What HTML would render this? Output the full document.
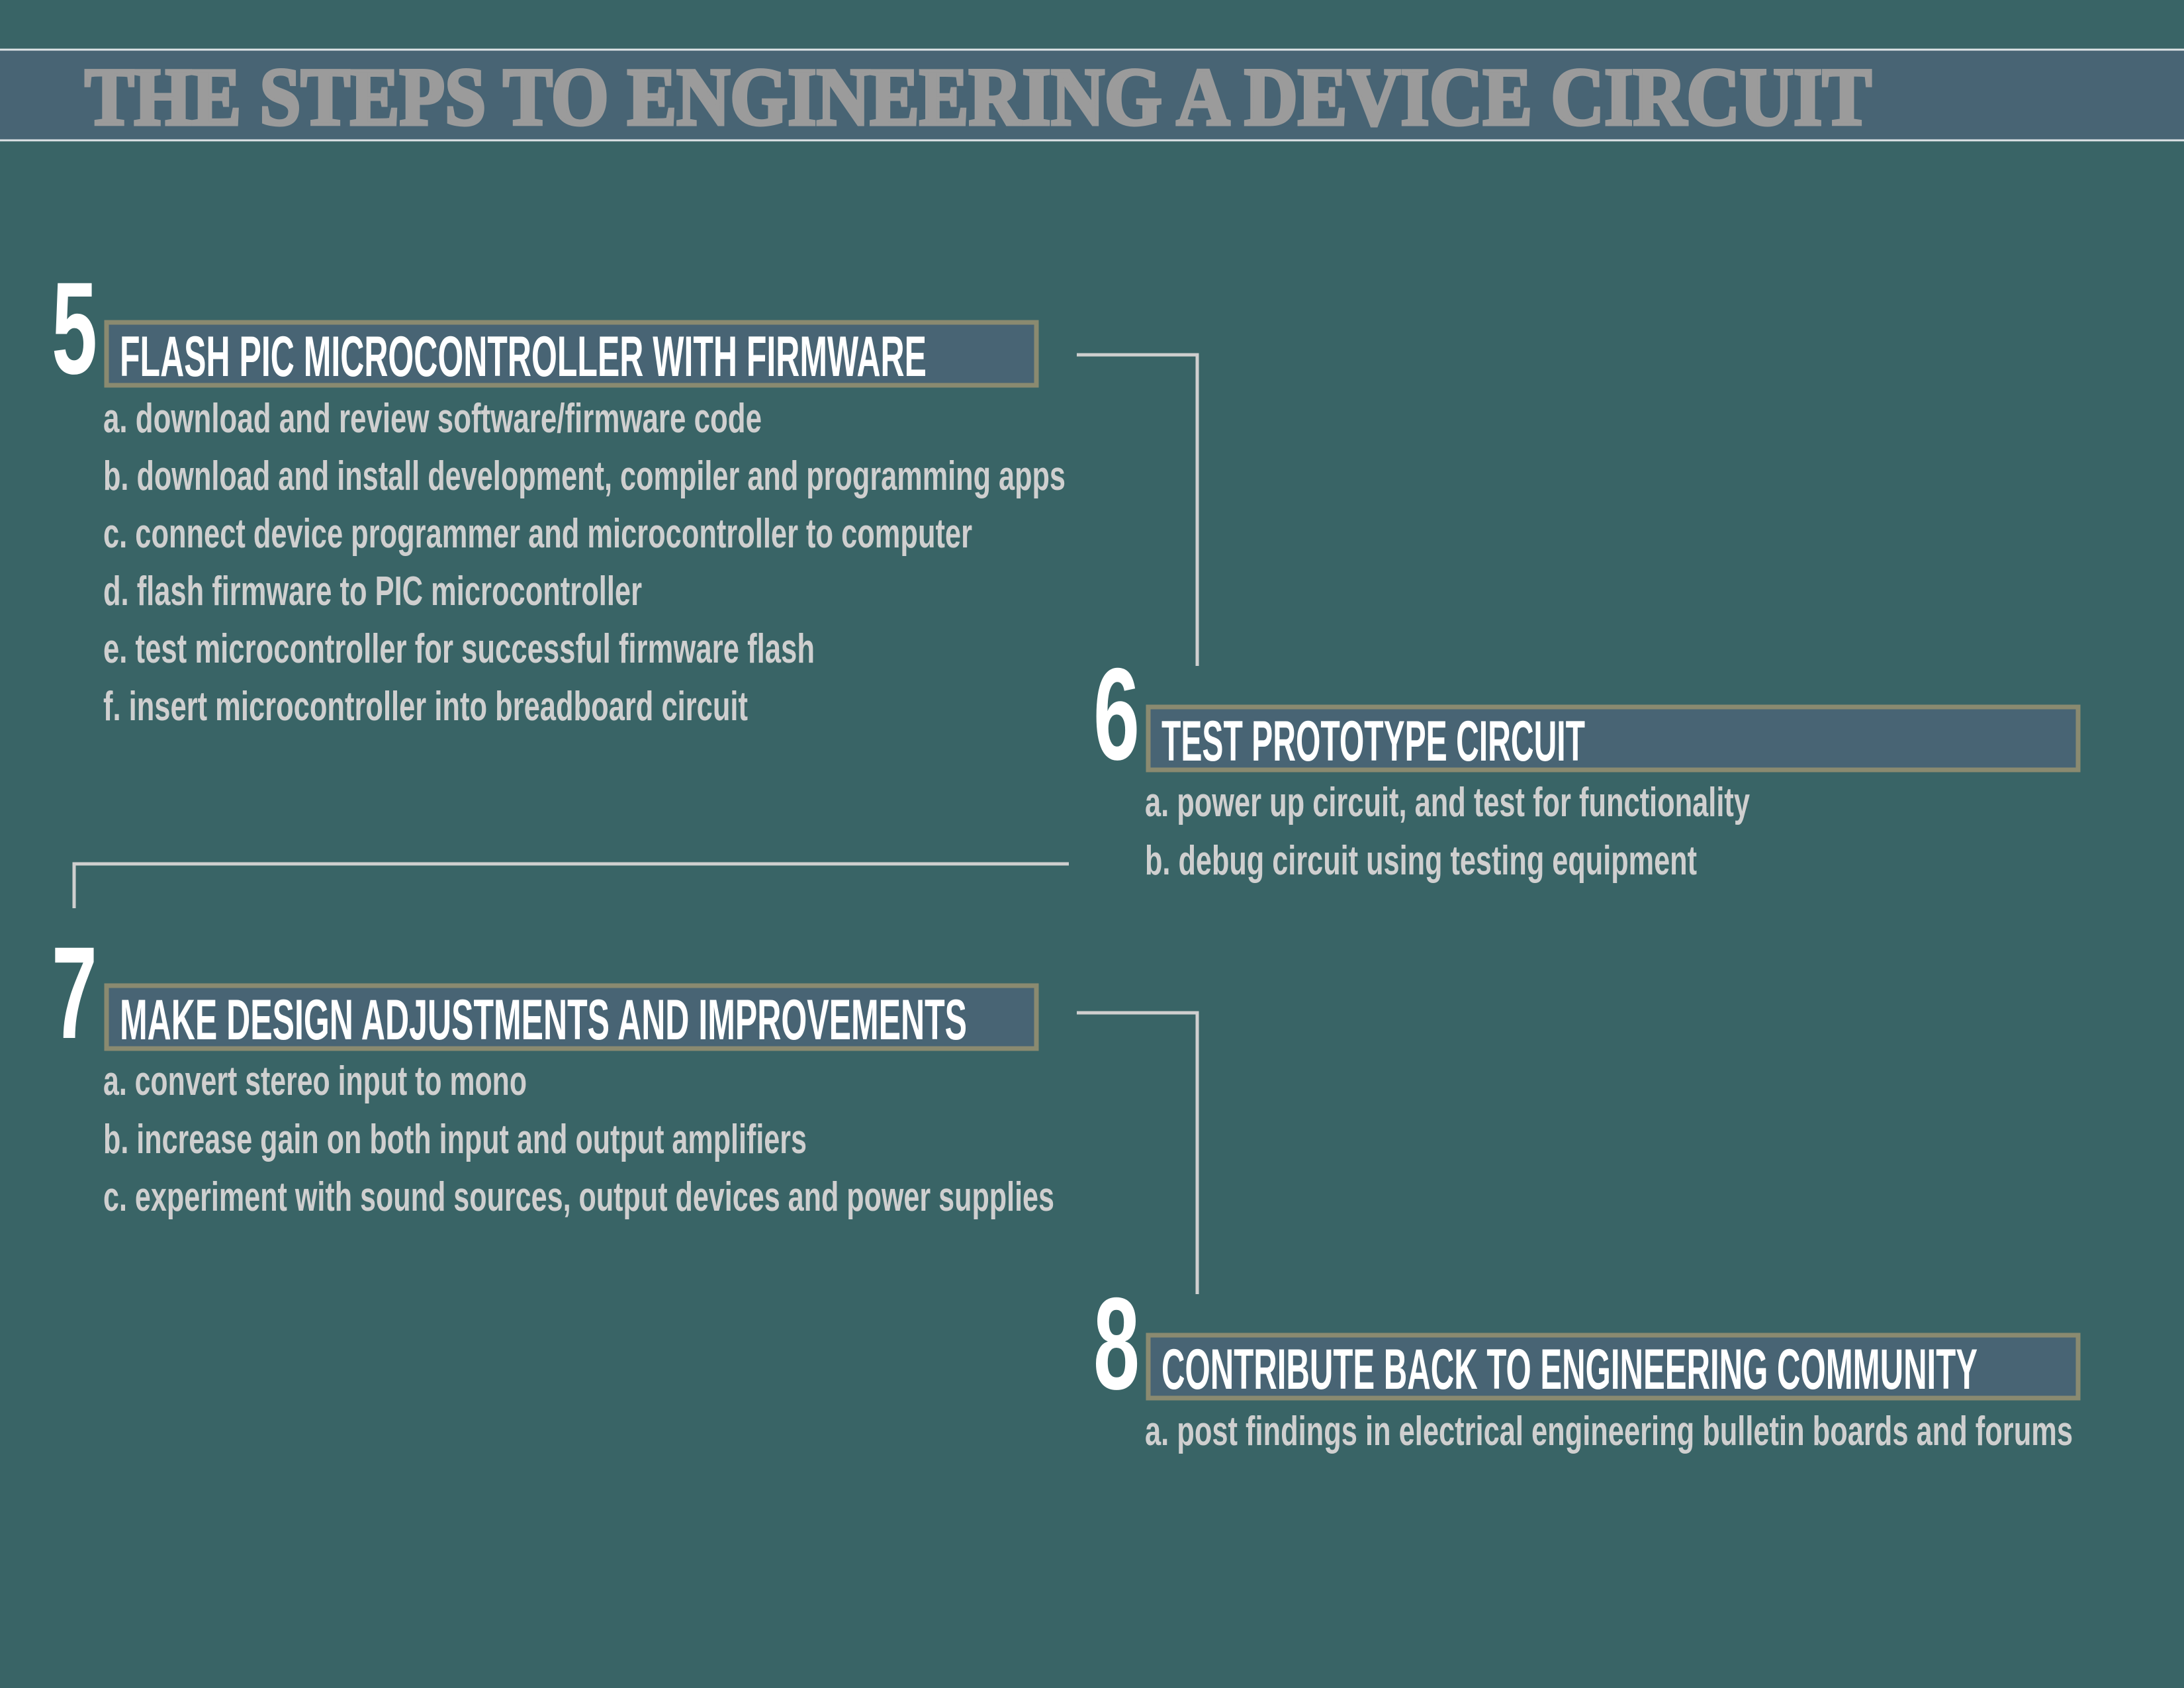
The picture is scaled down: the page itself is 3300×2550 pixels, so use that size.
<!DOCTYPE html>
<html><head><meta charset="utf-8"><style>
html,body{margin:0;padding:0;background:#396466;}
svg{display:block;}
.t{font-family:"Liberation Serif",serif;font-weight:bold;fill:#9b9b9b;stroke:#9b9b9b;stroke-width:5;}
.n{font-family:"Liberation Sans Narrow","Liberation Sans",sans-serif;font-weight:bold;fill:#ffffff;}
.h{font-family:"Liberation Sans Narrow","Liberation Sans",sans-serif;font-weight:bold;fill:#ffffff;}
.i{font-family:"Liberation Sans Narrow","Liberation Sans",sans-serif;font-weight:bold;fill:#cfcfcf;}
</style></head><body>
<svg width="3300" height="2550" viewBox="0 0 3300 2550" xmlns="http://www.w3.org/2000/svg">
<rect width="3300" height="2550" fill="#396466"/>
<rect x="0" y="75" width="3300" height="137" fill="#486474"/>
<line x1="0" y1="75" x2="3300" y2="75" stroke="#dde3e6" stroke-width="3"/>
<line x1="0" y1="212" x2="3300" y2="212" stroke="#dde3e6" stroke-width="3"/>
<text class="t" x="128" y="188" font-size="124" textLength="2700" lengthAdjust="spacingAndGlyphs">THE STEPS TO ENGINEERING A DEVICE CIRCUIT</text>

<g stroke="#cfcfcf" stroke-width="5" fill="none">
<polyline points="1627,536 1809,536 1809,1006"/>
<polyline points="1615,1305 112,1305 112,1372"/>
<polyline points="1627,1530 1809,1530 1809,1955"/>
</g>

<text class="n" x="78" y="564" font-size="198" textLength="69" lengthAdjust="spacingAndGlyphs">5</text>
<rect x="161" y="487" width="1405" height="95" fill="#486474" stroke="#8a8a70" stroke-width="7"/>
<text class="h" x="181" y="568" font-size="86" textLength="1219" lengthAdjust="spacingAndGlyphs">FLASH PIC MICROCONTROLLER WITH FIRMWARE</text>
<text class="i" x="156" y="653" font-size="62" textLength="995" lengthAdjust="spacingAndGlyphs">a. download and review software/firmware code</text>
<text class="i" x="156" y="740" font-size="62" textLength="1454" lengthAdjust="spacingAndGlyphs">b. download and install development, compiler and programming apps</text>
<text class="i" x="156" y="827" font-size="62" textLength="1313" lengthAdjust="spacingAndGlyphs">c. connect device programmer and microcontroller to computer</text>
<text class="i" x="156" y="914" font-size="62" textLength="814" lengthAdjust="spacingAndGlyphs">d. flash firmware to PIC microcontroller</text>
<text class="i" x="156" y="1001" font-size="62" textLength="1075" lengthAdjust="spacingAndGlyphs">e. test microcontroller for successful firmware flash</text>
<text class="i" x="156" y="1088" font-size="62" textLength="974" lengthAdjust="spacingAndGlyphs">f. insert microcontroller into breadboard circuit</text>

<text class="n" x="1652" y="1147" font-size="198" textLength="70" lengthAdjust="spacingAndGlyphs">6</text>
<rect x="1735" y="1068" width="1405" height="95" fill="#486474" stroke="#8a8a70" stroke-width="7"/>
<text class="h" x="1755" y="1149" font-size="86" textLength="640" lengthAdjust="spacingAndGlyphs">TEST PROTOTYPE CIRCUIT</text>
<text class="i" x="1730" y="1233" font-size="62" textLength="914" lengthAdjust="spacingAndGlyphs">a. power up circuit, and test for functionality</text>
<text class="i" x="1730" y="1321" font-size="62" textLength="834" lengthAdjust="spacingAndGlyphs">b. debug circuit using testing equipment</text>

<text class="n" x="78" y="1568" font-size="198" textLength="69" lengthAdjust="spacingAndGlyphs">7</text>
<rect x="161" y="1489" width="1405" height="95" fill="#486474" stroke="#8a8a70" stroke-width="7"/>
<text class="h" x="181" y="1570" font-size="86" textLength="1280" lengthAdjust="spacingAndGlyphs">MAKE DESIGN ADJUSTMENTS AND IMPROVEMENTS</text>
<text class="i" x="156" y="1654" font-size="62" textLength="640" lengthAdjust="spacingAndGlyphs">a. convert stereo input to mono</text>
<text class="i" x="156" y="1742" font-size="62" textLength="1063" lengthAdjust="spacingAndGlyphs">b. increase gain on both input and output amplifiers</text>
<text class="i" x="156" y="1829" font-size="62" textLength="1437" lengthAdjust="spacingAndGlyphs">c. experiment with sound sources, output devices and power supplies</text>

<text class="n" x="1652" y="2098" font-size="198" textLength="70" lengthAdjust="spacingAndGlyphs">8</text>
<rect x="1735" y="2017" width="1405" height="95" fill="#486474" stroke="#8a8a70" stroke-width="7"/>
<text class="h" x="1755" y="2098" font-size="86" textLength="1233" lengthAdjust="spacingAndGlyphs">CONTRIBUTE BACK TO ENGINEERING COMMUNITY</text>
<text class="i" x="1730" y="2183" font-size="62" textLength="1402" lengthAdjust="spacingAndGlyphs">a. post findings in electrical engineering bulletin boards and forums</text>
</svg>
</body></html>
